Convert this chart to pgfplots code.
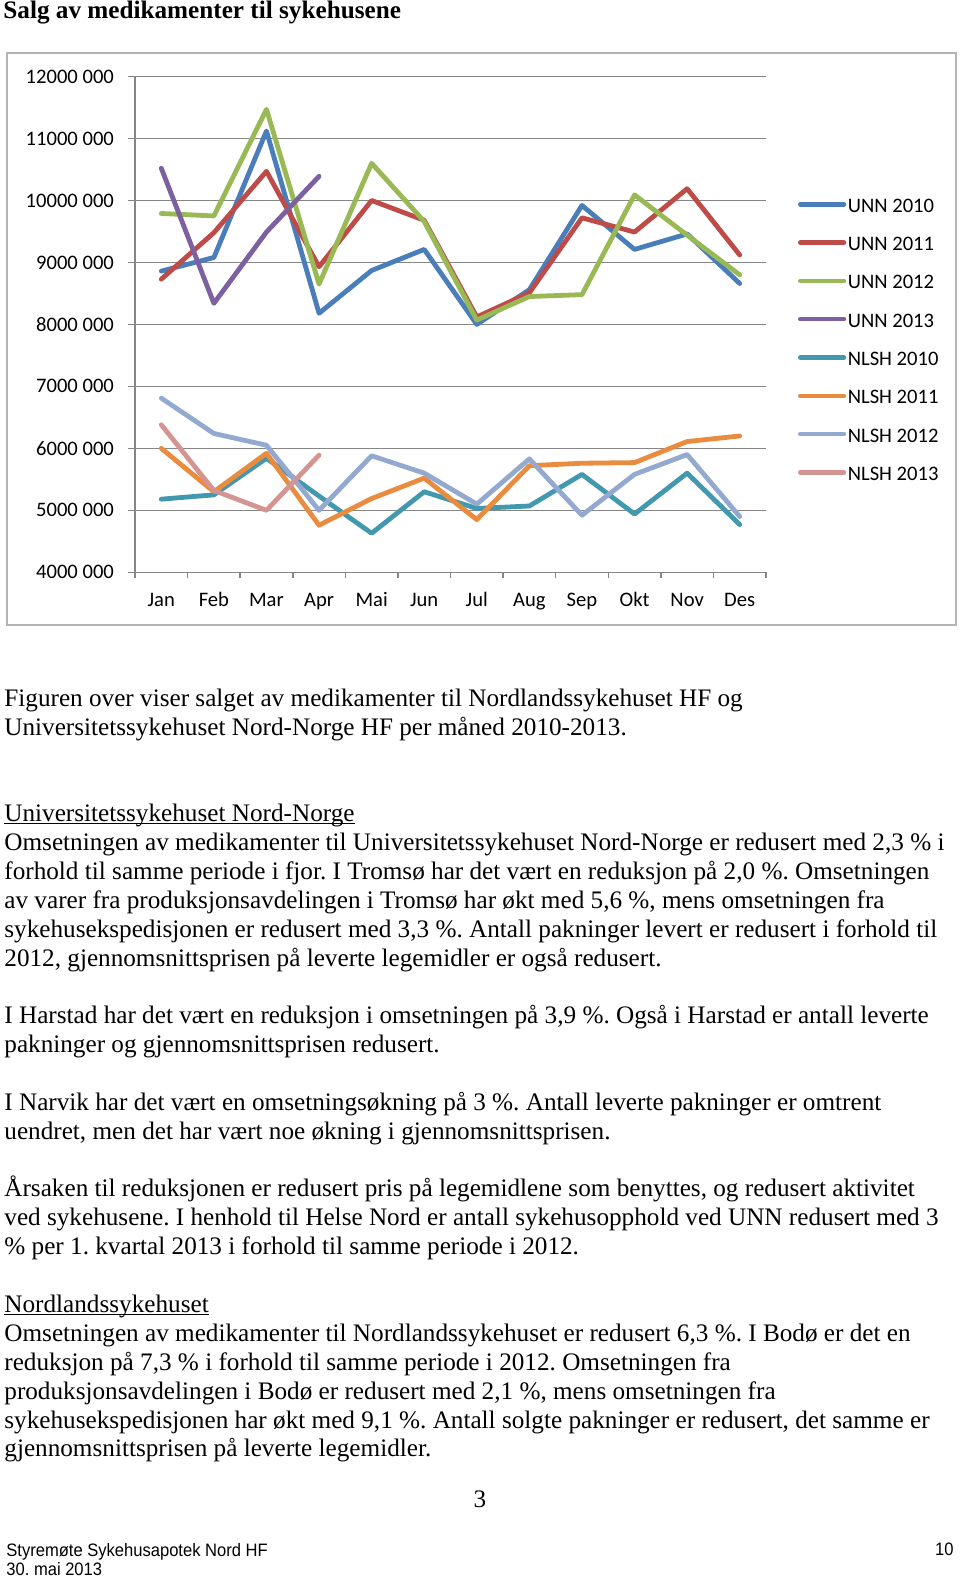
\documentclass[border=0pt]{standalone}
\usepackage{fontspec}
\setmainfont{Liberation Serif}
\newfontfamily\chartfont{Carlito}
\newfontfamily\footfont[FakeStretch=0.92]{Liberation Sans}
\usepackage{pgfplots}
\pgfplotsset{compat=1.18}
\definecolor{unnA}{HTML}{4A7EBB}
\definecolor{unnB}{HTML}{BE4B48}
\definecolor{unnC}{HTML}{98B954}
\definecolor{unnD}{HTML}{7D60A0}
\definecolor{nlA}{HTML}{4198AF}
\definecolor{nlB}{HTML}{E98C3F}
\definecolor{nlC}{HTML}{93A9D0}
\definecolor{nlD}{HTML}{D49592}
\definecolor{gridgray}{HTML}{868686}
\definecolor{boxgray}{HTML}{B4B4B4}
\frenchspacing
\newcommand{\bodyfont}{\fontsize{12.6pt}{15pt}\selectfont}
\newcommand{\cfont}{\chartfont\fontsize{10.3pt}{12pt}\selectfont}
\newcommand{\tl}[3]{\node[anchor=base west, inner sep=0pt, font=\bodyfont] at (#1,-#2) {#3};}
\newcommand{\ul}[1]{\setbox0\hbox{#1}\rlap{\rule[-1.3pt]{\wd0}{0.65pt}}#1}
\begin{document}
\begin{tikzpicture}[x=0.5pt,y=0.5pt]
\path[use as bounding box, fill=white] (0,0) rectangle (960,-1577);
% title
\node[anchor=base west, inner sep=0pt, font=\bodyfont\bfseries] at (3,-18.3) {Salg av medikamenter til sykehusene};
% chart box
\draw[boxgray, line width=1pt] (7,-53) rectangle (956,-625);
\begin{axis}[
  at={(67.5pt,-286.15pt)}, anchor=south west,
  scale only axis, width=315.5pt, height=247.9pt,
  xmin=0.5, xmax=12.5, ymin=4000000, ymax=12000000,
  axis x line=bottom, axis y line=left,
  axis line style={-, draw=gridgray, line width=0.75pt},
  tick align=outside,
  major tick length=3.5pt, minor tick length=3pt,
  ytick={4000000,5000000,6000000,7000000,8000000,9000000,10000000,11000000,12000000},
  yticklabels={4000 000,5000 000,6000 000,7000 000,8000 000,9000 000,10000 000,11000 000,12000 000},
  xtick={1,...,12},
  xticklabels={Jan,Feb,Mar,Apr,Mai,Jun,Jul,Aug,Sep,Okt,Nov,Des},
  minor xtick={0.5,1.5,...,12.5},
  major x tick style={draw=none},
  minor x tick style={draw=gridgray, line width=0.75pt},
  ytick style={draw=gridgray, line width=0.75pt},
  ymajorgrids, grid style={gridgray, line width=0.75pt},
  tick label style={font=\cfont, text=black},
  yticklabel style={anchor=east, inner sep=0pt, xshift=-6.85pt},
  xticklabel style={anchor=north, inner sep=0pt, text height=7pt, yshift=-6.3pt},
  scaled y ticks=false,
  clip=false,
  every axis plot/.append style={line width=2.4pt, line join=round, line cap=round, mark=none},
  legend style={at={(rel axis cs:1,1)}, anchor=north west, xshift=16pt, yshift=-58.9pt,
    draw=none, fill=none, inner sep=0pt, outer sep=0pt, font=\cfont,
    row sep=9.15pt, column sep=0.8pt,
    nodes={inner sep=0pt, text height=9pt, text depth=1pt}},
  legend cell align=left,
  legend image code/.code={\draw[#1, line width=2.25pt, line cap=round] (0pt,0pt) -- (21.85pt,0pt);},
]
\addplot[unnA] coordinates {(1,8860000)(2,9080000)(3,11120000)(4,8180000)(5,8870000)(6,9210000)(7,8000000)(8,8560000)(9,9920000)(10,9210000)(11,9460000)(12,8660000)};
\addplot[unnB] coordinates {(1,8730000)(2,9480000)(3,10470000)(4,8930000)(5,10000000)(6,9680000)(7,8120000)(8,8510000)(9,9720000)(10,9490000)(11,10190000)(12,9120000)};
\addplot[unnC] coordinates {(1,9790000)(2,9750000)(3,11470000)(4,8650000)(5,10600000)(6,9660000)(7,8070000)(8,8450000)(9,8480000)(10,10090000)(11,9440000)(12,8800000)};
\addplot[unnD] coordinates {(1,10520000)(2,8340000)(3,9490000)(4,10390000)};
\addplot[nlA] coordinates {(1,5180000)(2,5250000)(3,5840000)(4,5230000)(5,4630000)(6,5300000)(7,5030000)(8,5070000)(9,5580000)(10,4940000)(11,5600000)(12,4770000)};
\addplot[nlB] coordinates {(1,6000000)(2,5300000)(3,5920000)(4,4760000)(5,5190000)(6,5520000)(7,4850000)(8,5720000)(9,5760000)(10,5770000)(11,6110000)(12,6200000)};
\addplot[nlC] coordinates {(1,6810000)(2,6240000)(3,6050000)(4,5000000)(5,5880000)(6,5600000)(7,5100000)(8,5830000)(9,4920000)(10,5580000)(11,5900000)(12,4900000)};
\addplot[nlD] coordinates {(1,6380000)(2,5320000)(3,5000000)(4,5890000)};
\legend{UNN 2010,UNN 2011,UNN 2012,UNN 2013,NLSH 2010,NLSH 2011,NLSH 2012,NLSH 2013}
\end{axis}
% text
\tl{4}{706}{Figuren over viser salget av medikamenter til Nordlandssykehuset HF og}
\tl{4}{735}{Universitetssykehuset Nord-Norge HF per måned 2010-2013.}
\tl{4}{821.7}{\ul{Universitetssykehuset Nord-Norge}}
\tl{4}{850.7}{Omsetningen av medikamenter til Universitetssykehuset Nord-Norge er redusert med 2,3 \% i}
\tl{4}{879.5}{forhold til samme periode i fjor. I Tromsø har det vært en reduksjon på 2,0 \%. Omsetningen}
\tl{4}{908.4}{av varer fra produksjonsavdelingen i Tromsø har økt med 5,6 \%, mens omsetningen fra}
\tl{4}{937.2}{sykehusekspedisjonen er redusert med 3,3 \%. Antall pakninger levert er redusert i forhold til}
\tl{4}{966.0}{2012, gjennomsnittsprisen på leverte legemidler er også redusert.}
\tl{4}{1023.7}{I Harstad har det vært en reduksjon i omsetningen på 3,9 \%. Også i Harstad er antall leverte}
\tl{4}{1052.6}{pakninger og gjennomsnittsprisen redusert.}
\tl{4}{1110.3}{I Narvik har det vært en omsetningsøkning på 3 \%. Antall leverte pakninger er omtrent}
\tl{4}{1139.2}{uendret, men det har vært noe økning i gjennomsnittsprisen.}
\tl{4}{1196.9}{Årsaken til reduksjonen er redusert pris på legemidlene som benyttes, og redusert aktivitet}
\tl{4}{1225.7}{ved sykehusene. I henhold til Helse Nord er antall sykehusopphold ved UNN redusert med 3}
\tl{4}{1254.6}{\% per 1. kvartal 2013 i forhold til samme periode i 2012.}
\tl{4}{1312.8}{\ul{Nordlandssykehuset}}
\tl{4}{1341.4}{Omsetningen av medikamenter til Nordlandssykehuset er redusert 6,3 \%. I Bodø er det en}
\tl{4}{1370.3}{reduksjon på 7,3 \% i forhold til samme periode i 2012. Omsetningen fra}
\tl{4}{1399.1}{produksjonsavdelingen i Bodø er redusert med 2,1 \%, mens omsetningen fra}
\tl{4}{1428.0}{sykehusekspedisjonen har økt med 9,1 \%. Antall solgte pakninger er redusert, det samme er}
\tl{4}{1456.6}{gjennomsnittsprisen på leverte legemidler.}
\node[anchor=base, inner sep=0pt, font=\bodyfont] at (480,-1507) {3};
\node[anchor=base west, inner sep=0pt, font=\footfont\fontsize{9pt}{10pt}\selectfont] at (6,-1556) {Styremøte Sykehusapotek Nord HF};
\node[anchor=base west, inner sep=0pt, font=\footfont\fontsize{9pt}{10pt}\selectfont] at (6,-1575) {30. mai 2013};
\node[anchor=base east, inner sep=0pt, font=\footfont\fontsize{9pt}{10pt}\selectfont] at (954,-1555) {10};
\end{tikzpicture}
\end{document}
